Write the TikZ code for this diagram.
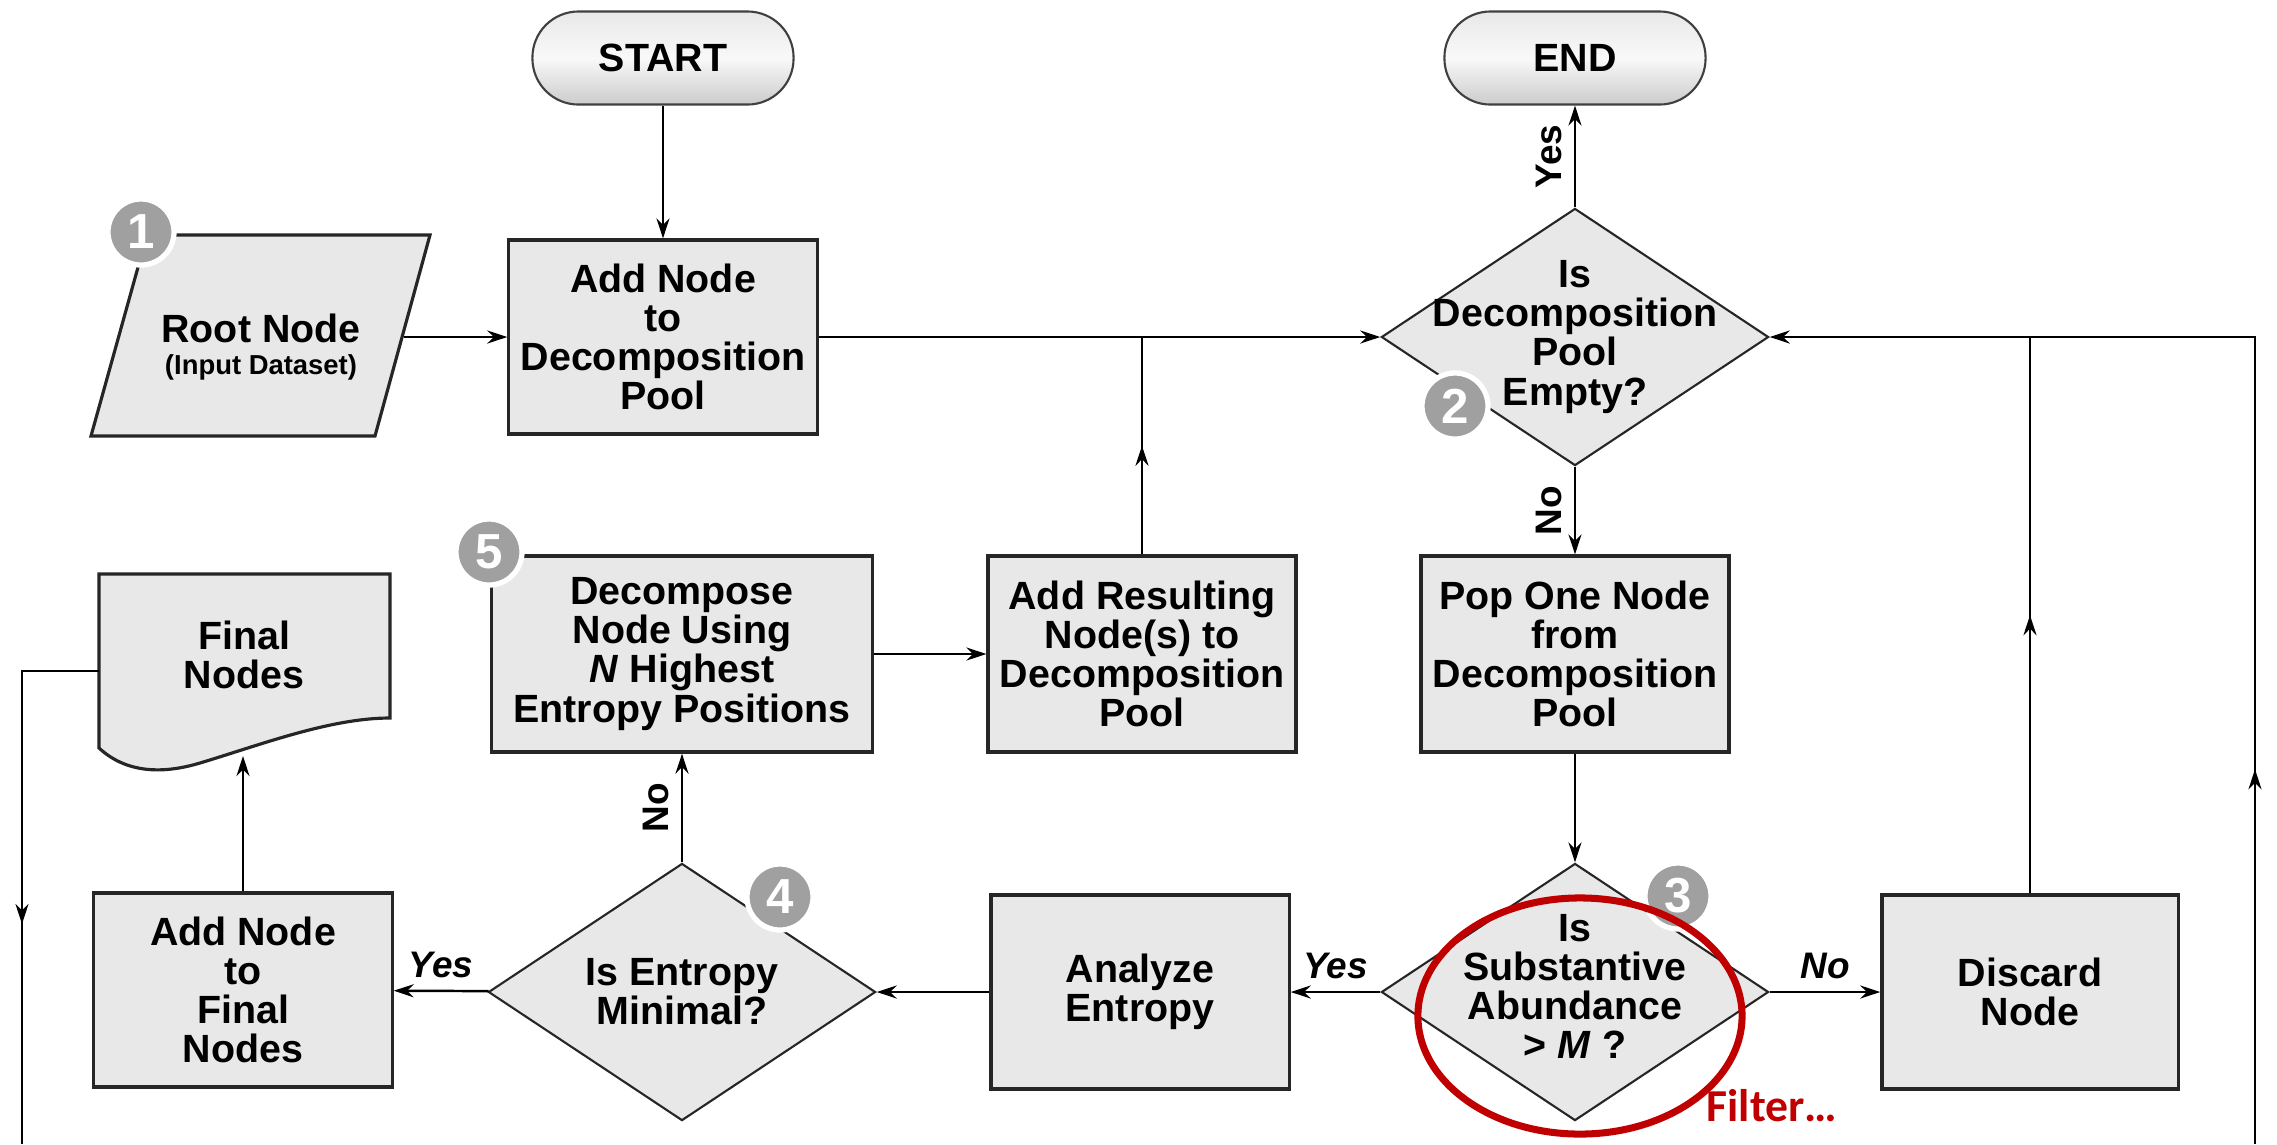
\documentclass[tikz,border=0pt]{standalone}
\usepackage{fontspec}
\setmainfont{Liberation Sans}
\newfontfamily\filterfont{Carlito}
\usetikzlibrary{shapes.geometric, arrows.meta, decorations.markings, positioning}

\definecolor{boxgray}{RGB}{232,232,232}
\definecolor{badgegray}{RGB}{160,160,160}
\definecolor{markred}{RGB}{192,0,0}

\tikzset{
  box/.style={rectangle, draw=black!85, line width=0.9pt, fill=boxgray, align=center,
    font=\bfseries\fontsize{11.2}{11.1}\selectfont},
  terminal/.style={rectangle, rounded corners=0.46cm, draw=black!75, line width=0.6pt,
    top color=gray!18, bottom color=gray!40, middle color=gray!5,
    minimum width=2.61cm, minimum height=0.93cm, font=\bfseries\fontsize{11.2}{12}\selectfont},
  decision/.style={diamond, draw=black!85, line width=0.6pt, fill=boxgray, inner sep=0pt,
    minimum width=3.87cm, minimum height=2.57cm},
  qtext/.style={align=center, font=\bfseries\fontsize{11.2}{11.1}\selectfont},
  badge/.style={circle, fill=badgegray, draw=white, line width=1.5pt, minimum size=0.66cm,
    inner sep=0pt, text=white, font=\bfseries\fontsize{14}{14}\selectfont},
  conn/.style={line width=0.7pt},
  arr/.style={conn, -{Stealth[length=0.2cm, width=0.13cm]}},
  midarr/.style={postaction={decorate}, decoration={markings,
    mark=at position #1 with {\arrow{Stealth[length=0.2cm, width=0.13cm]}}}},
  ans/.style={font=\bfseries\itshape\fontsize{10.5}{11}\selectfont},
  ansv/.style={font=\bfseries\fontsize{10.5}{11}\selectfont, rotate=90, anchor=south},
}

\begin{document}
\begin{tikzpicture}[x=0.01cm, y=-0.01cm]
\useasboundingbox[fill=white] (0,0) rectangle (2277,1144);
% top row
\node[terminal] (start) at (663,58) {START};
\node[terminal] (end) at (1575,58) {END};
\draw[draw=black!85, line width=0.9pt, fill=boxgray] (147,235) -- (430,235) -- (375,436) -- (91,436) -- cycle;
\node[qtext, minimum width=2.84cm, minimum height=2.01cm] (root) at (261,347)
  {Root Node\\[-2pt]{\fontsize{7.8}{9}\selectfont(Input Dataset)}};
\node[box, minimum width=3.08cm, minimum height=1.94cm] (addpool) at (663,337) {Add Node\\to\\Decomposition\\Pool};
\node[decision, label={[qtext]center:{Is\\Decomposition\\Pool\\Empty?}}] (dec1) at (1575,337) {};

% middle row
\draw[draw=black!85, line width=0.9pt, fill=boxgray] (99,574) -- (390,574) -- (390,718)
  .. controls (330,718) and (260,745) .. (200,763) .. controls (160,775) and (125,772) .. (99,748) -- cycle;
\node[qtext] (final) at (244,655) {Final\\Nodes};
\node[box, minimum width=3.81cm, minimum height=1.96cm] (decomp) at (682,654) {Decompose\\Node Using\\\textit{N} Highest\\Entropy Positions};
\node[box, minimum width=3.04cm, minimum height=1.96cm] (addres) at (1142,654) {Add Resulting\\Node(s) to\\Decomposition\\Pool};
\node[box, minimum width=3.06cm, minimum height=1.96cm] (pop) at (1575,654) {Pop One Node\\from\\Decomposition\\Pool};

% bottom row
\node[box, minimum width=2.98cm, minimum height=1.94cm] (addfinal) at (243,990) {Add Node\\to\\Final\\Nodes};
\node[decision, label={[qtext]center:{Is Entropy\\Minimal?}}] (dec3) at (682,992) {};
\node[box, minimum width=2.98cm, minimum height=1.94cm] (analyze) at (1140,992) {Analyze\\Entropy};
\node[decision, label={[qtext, yshift=1.5pt]center:{Is\\Substantive\\Abundance\\> \textit{M} ?}}] (dec2) at (1575,992) {};
\node[box, minimum width=2.96cm, minimum height=1.94cm] (discard) at (2030,992) {Discard\\Node};

\coordinate (j1) at (1142,337);
\coordinate (j2) at (2030,337);
\coordinate (rbot) at (2255,1144);
\coordinate (lbot) at (22,1144);
\coordinate (finalin) at (243,756);
\coordinate (finalout) at (99,671);

% connectors
\draw[arr] (start) -- (addpool);
\draw[arr] (root.east |- addpool.west) -- (addpool.west);
\draw[arr] (addpool) -- (dec1);
\draw[arr] (dec1) -- node[ansv] {Yes} (end);
\draw[arr] (dec1) -- node[ansv] {No} (pop);
\draw[arr] (pop) -- (dec2);
\draw[arr] (dec2) -- node[ans, above] {Yes} (analyze);
\draw[arr] (dec2) -- node[ans, above] {No} (discard);
\draw[arr] (analyze) -- (dec3);
\draw[arr] (dec3) -- node[ans, above] {Yes} (addfinal);
\draw[arr] (dec3) -- node[ansv] {No} (decomp);
\draw[arr] (decomp) -- (addres);
\draw[arr] (addfinal) -- (finalin);
\draw[conn, midarr=0.5] (addres) -- (j1);
\draw[conn, midarr=0.5] (discard) -- (j2);
\draw[arr, midarr=0.29] (rbot) |- (dec1);
\draw[conn, midarr=0.6] (finalout) -| (lbot);

% step numbers
\node[badge] (b1) at (141,232) {1};
\node[badge] (b2) at (1455,406) {2};
\node[badge] (b3) at (1678,896) {3};
\node[badge] (b4) at (780,897) {4};
\node[badge] (b5) at (489,552) {5};

% filter mark
\draw[markred, line width=2pt] (1580,1016) ellipse [x radius=1.62cm, y radius=1.18cm];
\node[text=markred, font=\filterfont\bfseries\fontsize{13}{14}\selectfont] (filter) at (1772,1106) {Filter…};
\end{tikzpicture}
\end{document}
